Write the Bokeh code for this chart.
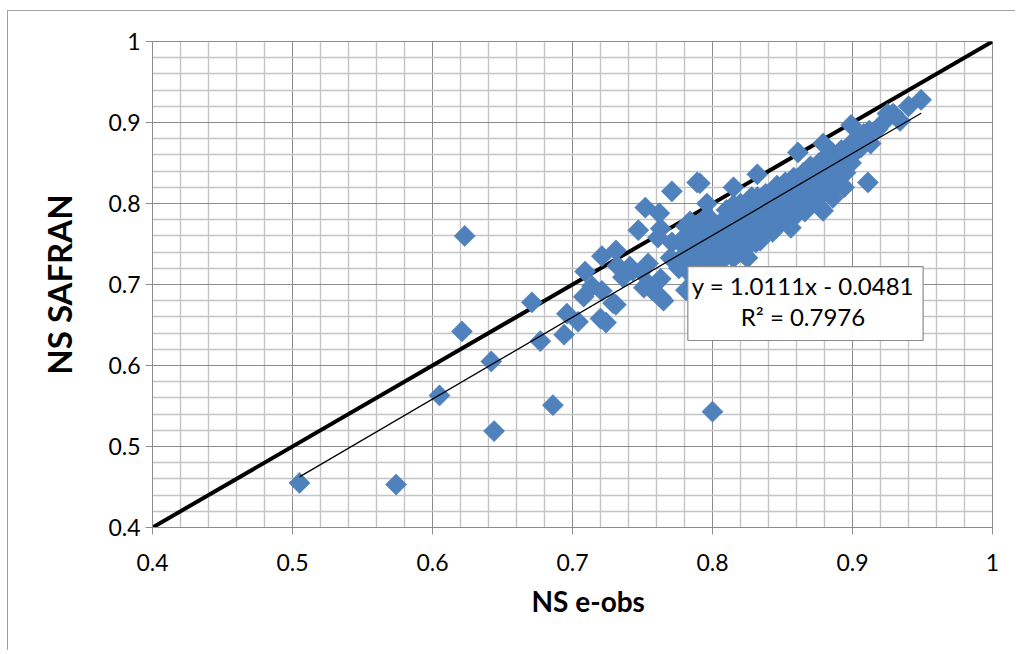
import math
from bokeh.plotting import figure
from bokeh.models import Range1d, FixedTicker, CustomJSTickFormatter, Label, Title
from bokeh.embed import file_html
from bokeh.resources import INLINE

# ---- data ----
ns_eobs = [
    0.505, 0.574, 0.605, 0.621, 0.623, 0.642, 0.644, 0.686, 0.671, 0.677,
    0.694, 0.696, 0.704, 0.709, 0.708, 0.714, 0.721, 0.720, 0.724, 0.721,
    0.731, 0.731, 0.732, 0.736, 0.747, 0.741, 0.751, 0.749, 0.800, 0.771,
    0.791, 0.752, 0.762, 0.763, 0.761, 0.796, 0.794, 0.754, 0.743, 0.771,
    0.779, 0.786, 0.770, 0.763, 0.757, 0.765, 0.729, 0.781, 0.791, 0.911,
    0.886, 0.872, 0.879, 0.858, 0.849, 0.831, 0.818, 0.806, 0.815, 0.796,
    0.784, 0.763, 0.754, 0.906, 0.913, 0.929, 0.949, 0.934, 0.940, 0.925,
    0.899, 0.901, 0.861, 0.894, 0.877, 0.854, 0.834, 0.825, 0.832, 0.846,
    0.879, 0.800, 0.805, 0.808, 0.810, 0.812, 0.815, 0.817, 0.818, 0.820,
    0.822, 0.823, 0.825, 0.826, 0.828, 0.829, 0.830, 0.832, 0.833, 0.835,
    0.836, 0.838, 0.840, 0.841, 0.843, 0.845, 0.846, 0.848, 0.850, 0.852,
    0.853, 0.855, 0.857, 0.858, 0.860, 0.862, 0.863, 0.865, 0.867, 0.868,
    0.870, 0.872, 0.874, 0.876, 0.878, 0.880, 0.882, 0.884, 0.886, 0.888,
    0.890, 0.892, 0.894, 0.896, 0.898, 0.900, 0.903, 0.908, 0.912, 0.918,
    0.922, 0.782, 0.785, 0.788, 0.790, 0.792, 0.795, 0.797, 0.799, 0.803,
    0.807, 0.813, 0.816, 0.819, 0.824, 0.827, 0.834, 0.839, 0.844, 0.849,
    0.856, 0.861, 0.866, 0.871, 0.876, 0.881, 0.887, 0.891, 0.895, 0.899,
    0.776, 0.779, 0.783, 0.787, 0.793, 0.798, 0.802, 0.809, 0.822, 0.804,
    0.794, 0.815, 0.879, 0.789, 0.778, 0.784, 0.789, 0.781,
]
ns_safran = [
    0.455, 0.453, 0.563, 0.642, 0.760, 0.605, 0.519, 0.551, 0.678, 0.630,
    0.638, 0.664, 0.654, 0.716, 0.685, 0.698, 0.692, 0.658, 0.653, 0.735,
    0.742, 0.675, 0.723, 0.709, 0.767, 0.722, 0.696, 0.716, 0.543, 0.815,
    0.825, 0.795, 0.788, 0.769, 0.758, 0.800, 0.781, 0.726, 0.717, 0.752,
    0.748, 0.757, 0.733, 0.707, 0.693, 0.680, 0.677, 0.693, 0.705, 0.826,
    0.807, 0.804, 0.791, 0.783, 0.777, 0.752, 0.746, 0.754, 0.733, 0.733,
    0.690, 0.684, 0.701, 0.869, 0.874, 0.911, 0.928, 0.902, 0.920, 0.911,
    0.897, 0.862, 0.863, 0.820, 0.795, 0.779, 0.754, 0.733, 0.836, 0.822,
    0.844, 0.760, 0.770, 0.780, 0.792, 0.765, 0.798, 0.785, 0.770, 0.800,
    0.795, 0.778, 0.760, 0.798, 0.808, 0.785, 0.770, 0.808, 0.805, 0.790,
    0.775, 0.812, 0.800, 0.785, 0.765, 0.818, 0.810, 0.795, 0.780, 0.826,
    0.820, 0.805, 0.790, 0.832, 0.830, 0.815, 0.800, 0.838, 0.825, 0.810,
    0.846, 0.840, 0.822, 0.850, 0.835, 0.856, 0.850, 0.830, 0.862, 0.858,
    0.842, 0.866, 0.865, 0.850, 0.872, 0.870, 0.880, 0.886, 0.890, 0.892,
    0.900, 0.745, 0.765, 0.740, 0.775, 0.755, 0.735, 0.765, 0.780, 0.745,
    0.730, 0.750, 0.760, 0.740, 0.745, 0.765, 0.760, 0.770, 0.780, 0.790,
    0.770, 0.795, 0.790, 0.800, 0.812, 0.815, 0.820, 0.825, 0.838, 0.850,
    0.720, 0.735, 0.715, 0.725, 0.745, 0.725, 0.715, 0.740, 0.738, 0.746,
    0.730, 0.820, 0.874, 0.826, 0.755, 0.778, 0.760, 0.772,
]
one_to_one = [0.4, 1.0]
trend_slope = 1.0111
trend_intercept = -0.0481
r_squared = 0.7976
major_ticks = [0.4, 0.5, 0.6, 0.7, 0.8, 0.9, 1.0]
minor_ticks = [0.42, 0.44, 0.46, 0.48, 0.52, 0.54, 0.56, 0.58,
               0.62, 0.64, 0.66, 0.68, 0.72, 0.74, 0.76, 0.78,
               0.82, 0.84, 0.86, 0.88, 0.92, 0.94, 0.96, 0.98]
x_title = "NS e-obs"
y_title = "NS SAFRAN"

FONT = "Lato"
GRID_MAJOR = "#8c8c8c"
GRID_MINOR = "#c4c4c4"
BLUE = "#4f81bd"

p = figure(width=1008, height=640,
           x_range=Range1d(0.4, 1.0), y_range=Range1d(0.4, 1.0),
           output_backend="svg", toolbar_location=None,
           min_border_left=144, min_border_right=24,
           min_border_top=30, min_border_bottom=124,
           styles={"margin-left": "7px", "margin-top": "10px",
                   "border-left": "1px solid #a0a0a0",
                   "border-top": "1px solid #a0a0a0"})
p.background_fill_color = "white"
p.border_fill_color = "white"
p.outline_line_color = GRID_MAJOR
p.outline_line_width = 1

fmt = CustomJSTickFormatter(code="var s = tick.toFixed(1); return s.endsWith('.0') ? s.slice(0, -2) : s;")
for ax in (p.xaxis[0], p.yaxis[0]):
    ax.ticker = FixedTicker(ticks=major_ticks, minor_ticks=minor_ticks)
    ax.formatter = fmt
    ax.axis_line_color = GRID_MAJOR
    ax.major_tick_line_color = GRID_MAJOR
    ax.major_tick_out = 7
    ax.major_tick_in = 0
    ax.minor_tick_line_color = None
    ax.major_label_text_font = FONT
    ax.major_label_text_font_size = "23px"
    ax.major_label_text_color = "black"
    ax.axis_label_text_font = FONT
    ax.axis_label_text_font_style = "bold"
    ax.axis_label_text_color = "black"

p.xaxis.major_label_standoff = 19
p.yaxis.axis_label = y_title
p.yaxis.axis_label_text_font_size = "33px"
p.yaxis.major_label_standoff = 5
p.yaxis.axis_label_standoff = 26

# x-axis title (sits slightly right of the frame centre, as in the original)
p.add_layout(Title(text=x_title, align="left", offset=379, standoff=16,
                   text_font=FONT, text_font_style="bold", text_font_size="28px",
                   text_color="black"), "below")

for g in (p.xgrid[0], p.ygrid[0]):
    g.grid_line_color = GRID_MAJOR
    g.grid_line_width = 1
    g.minor_grid_line_color = GRID_MINOR
    g.minor_grid_line_width = 1.4

# 1:1 line
p.line(one_to_one, one_to_one, line_color="black", line_width=4)

# scatter
p.scatter(ns_eobs, ns_safran, marker="square", angle=math.pi / 4, size=15,
          fill_color=BLUE, line_color=BLUE, line_width=0.5)

# linear trend line across data range
x0, x1 = min(ns_eobs), max(ns_eobs)
p.line([x0, x1], [trend_slope * x0 + trend_intercept, trend_slope * x1 + trend_intercept],
       line_color="black", line_width=1.3)

eq = "y = %.4fx - %.4f\nR\u00b2 = %.4f" % (trend_slope, -trend_intercept, r_squared)
p.add_layout(Label(x=0.8664, y=0.6765, text=eq, text_align="center", text_baseline="middle",
                   text_font=FONT, text_font_size="24px", text_color="black",
                   text_line_height=1.1,
                   background_fill_color="white", border_line_color="#8c8c8c",
                   border_line_width=1.2, padding=(4, 9, 4, 9)))

open("out.html", "w").write(file_html(p, INLINE))
